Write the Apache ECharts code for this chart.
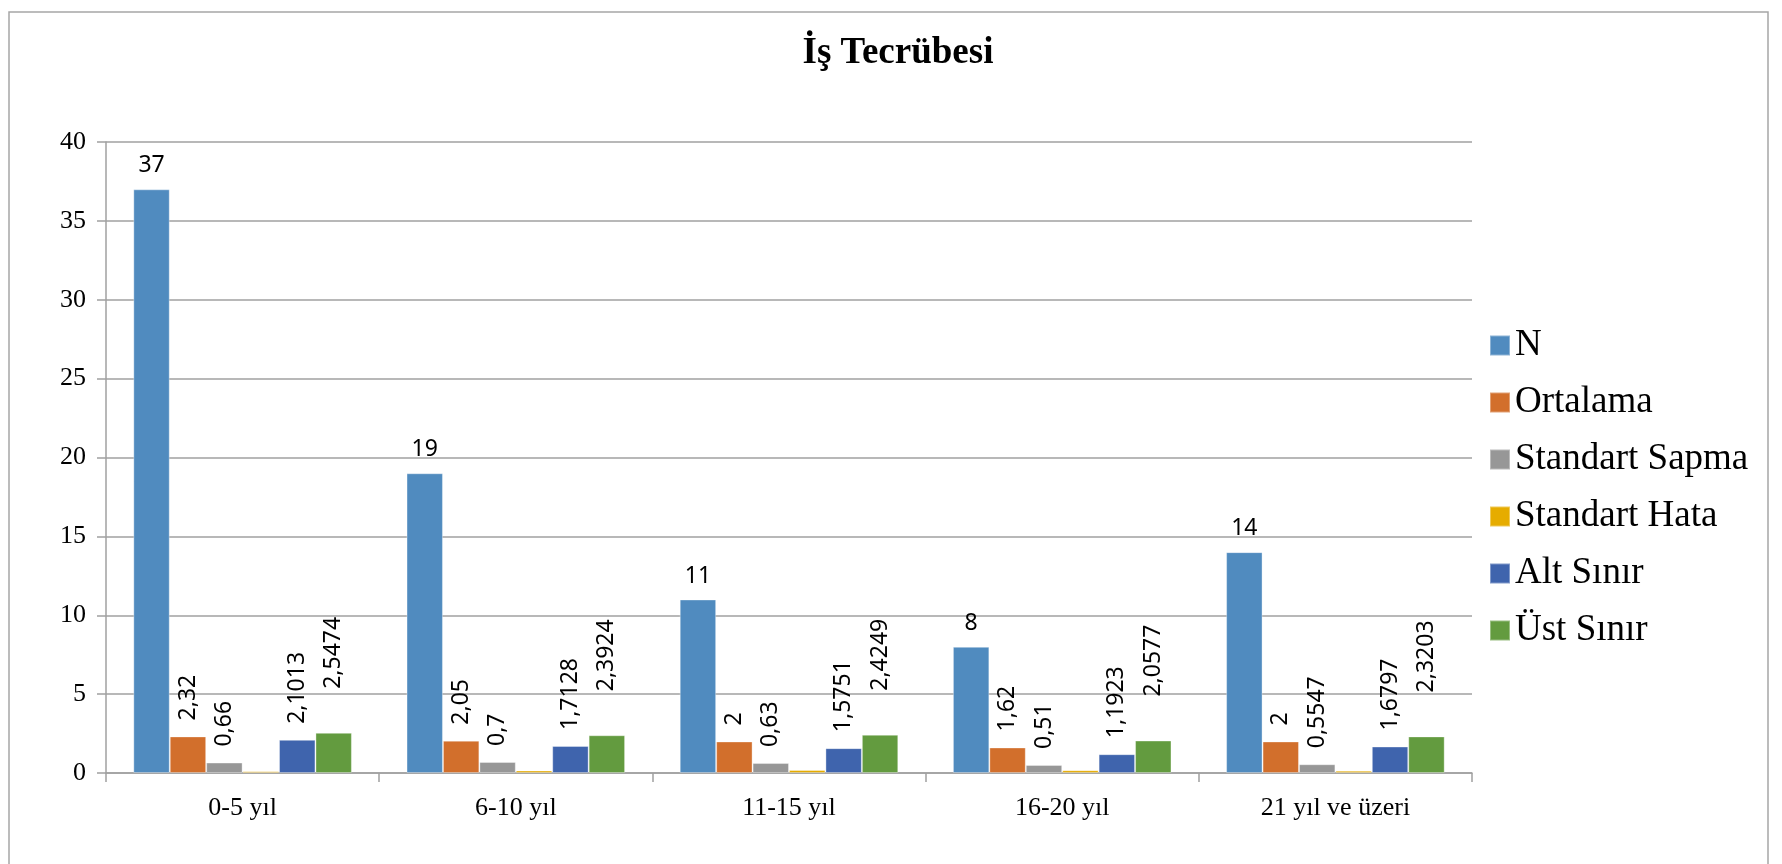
<!DOCTYPE html>
<html>
<head>
<meta charset="utf-8">
<script src="https://cdn.jsdelivr.net/npm/echarts@6/dist/echarts.min.js"></script>
<style>
html,body{margin:0;padding:0;background:#fff;}
#chart{width:1782px;height:864px;}
</style>
</head>
<body>
<div id="chart"></div>
<script>
var categories = ['0-5 yıl', '6-10 yıl', '11-15 yıl', '16-20 yıl', '21 yıl ve üzeri'];
var seriesNames = ['N', 'Ortalama', 'Standart Sapma', 'Standart Hata', 'Alt Sınır', 'Üst Sınır'];
var nValues = [37, 19, 11, 8, 14];
var ortalamaValues = [2.32, 2.05, 2, 1.62, 2];
var sapmaValues = [0.66, 0.7, 0.63, 0.51, 0.5547];
var hataValues = [0.11, 0.16, 0.19, 0.18, 0.15];
var altValues = [2.1013, 1.7128, 1.5751, 1.1923, 1.6797];
var ustValues = [2.5474, 2.3924, 2.4249, 2.0577, 2.3203];
var yTicks = [0, 5, 10, 15, 20, 25, 30, 35, 40];

var colors = ['#508BBF', '#D26F2C', '#979797', '#E6AC00', '#3F64AD', '#639B3F'];
var allValues = [nValues, ortalamaValues, sapmaValues, hataValues, altValues, ustValues];

function fmt(p) { return String(p.value).replace('.', ','); }

var labelFont = { fontFamily: 'Noto Sans', fontSize: 23, color: '#000' };

function makeLabel(i) {
  if (i === 0) {
    return Object.assign({ show: true, position: 'top', distance: 12, formatter: fmt }, labelFont);
  }
  if (i === 3) return { show: false };
  return Object.assign({
    show: true, position: 'top', rotate: 90, align: 'left', verticalAlign: 'middle',
    distance: i === 5 ? 44 : 16, formatter: fmt
  }, labelFont);
}

var series = seriesNames.map(function (name, i) {
  return {
    name: name,
    type: 'bar',
    data: allValues[i],
    barGap: '0%',
    barCategoryGap: '20%',
    itemStyle: { color: colors[i], borderColor: 'rgba(255,255,255,0.35)', borderWidth: 1 },
    label: makeLabel(i),
    emphasis: { disabled: true }
  };
});

var chart = echarts.init(document.getElementById('chart'), null, { renderer: 'canvas' });
chart.setOption({
  animation: false,
  backgroundColor: '#fff',
  color: colors,
  title: {
    text: 'İş Tecrübesi',
    left: 893, top: 30, textAlign: 'center',
    textStyle: { fontFamily: 'Liberation Serif', fontWeight: 'bold', fontSize: 37, color: '#000' }
  },
  graphic: [{
    type: 'rect', silent: true,
    shape: { x: 9, y: 12, width: 1759, height: 900 },
    style: { fill: 'none', stroke: '#A6A6A6', lineWidth: 1.5 }
  }],
  legend: {
    orient: 'vertical',
    left: 1484, top: 320,
    itemWidth: 20, itemHeight: 20, itemGap: 16,
    icon: 'rect',
    textStyle: { fontFamily: 'Liberation Serif', fontSize: 37, color: '#000', lineHeight: 41, padding: [0, 0, 0, 0] },
    data: seriesNames
  },
  grid: { left: 106, right: 310, top: 142, bottom: 91, containLabel: false },
  xAxis: {
    type: 'category',
    data: categories,
    axisLine: { lineStyle: { color: '#A0A0A0', width: 1.5 } },
    axisTick: { show: true, length: 9, lineStyle: { color: '#A0A0A0', width: 1.5 } },
    axisLabel: { fontFamily: 'Liberation Serif', fontSize: 26, color: '#000', margin: 22 }
  },
  yAxis: {
    type: 'value',
    min: yTicks[0], max: yTicks[yTicks.length - 1], interval: 5,
    axisLine: { show: true, lineStyle: { color: '#A0A0A0', width: 1.5 } },
    axisTick: { show: true, length: 9, lineStyle: { color: '#A0A0A0', width: 1.5 } },
    splitLine: { lineStyle: { color: '#A0A0A0', width: 1.5 } },
    axisLabel: { fontFamily: 'Liberation Serif', fontSize: 26, color: '#000', margin: 20 }
  },
  series: series
});
</script>
</body>
</html>
